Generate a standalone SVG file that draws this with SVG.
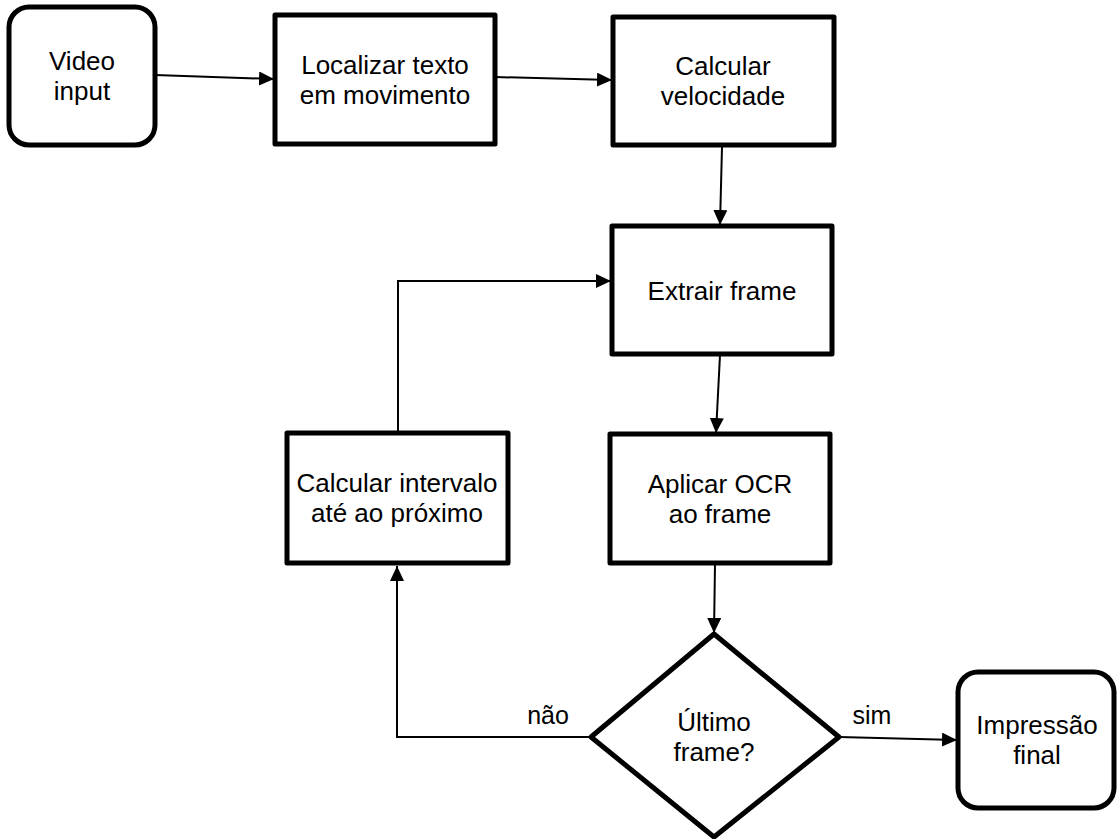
<svg xmlns="http://www.w3.org/2000/svg" width="1117" height="839" viewBox="0 0 1117 839">
<style>
.box{fill:#fff;stroke:#000;stroke-width:5;stroke-linejoin:round}
.t{font-family:"Liberation Sans",Arial,sans-serif;font-size:26px;fill:#000;text-anchor:middle}
.lbl{font-family:"Liberation Sans",Arial,sans-serif;font-size:25px;fill:#000;text-anchor:middle}
.c{fill:none;stroke:#000;stroke-width:2}
</style>
<defs>
<marker id="ah" markerUnits="userSpaceOnUse" markerWidth="16" markerHeight="14" refX="15" refY="7" orient="auto">
<path d="M0,0 L15,7 L0,14 Z" fill="#000"/>
</marker>
</defs>
<rect width="1117" height="839" fill="#fff"/>
<g id="connectors">
<path class="c" d="M155,75 L274,79" marker-end="url(#ah)"/>
<path class="c" d="M495,77 L612,80" marker-end="url(#ah)"/>
<path class="c" d="M722,147 L720,225" marker-end="url(#ah)"/>
<path class="c" d="M720,355 L716,433" marker-end="url(#ah)"/>
<path class="c" d="M715,564 L714,633" marker-end="url(#ah)"/>
<path class="c" d="M591,737 L397,737 L397,566" marker-end="url(#ah)"/>
<path class="c" d="M398,432 L398,281 L611,281" marker-end="url(#ah)"/>
<path class="c" d="M839,737 L957,740" marker-end="url(#ah)"/>
</g>
<g id="video-input">
<rect class="box" x="9" y="7" width="146" height="138" rx="20"/>
<text class="t" x="82" y="70">Video</text>
<text class="t" x="82" y="100">input</text>
</g>
<g id="localizar">
<rect class="box" x="275" y="15" width="220" height="129"/>
<text class="t" x="385" y="74">Localizar texto</text>
<text class="t" x="385" y="104">em movimento</text>
</g>
<g id="calcular-velocidade">
<rect class="box" x="613" y="17" width="221" height="128"/>
<text class="t" x="723" y="75">Calcular</text>
<text class="t" x="723" y="105">velocidade</text>
</g>
<g id="extrair-frame">
<rect class="box" x="612" y="226" width="220" height="128"/>
<text class="t" x="722" y="300">Extrair frame</text>
</g>
<g id="calcular-intervalo">
<rect class="box" x="287" y="433" width="221" height="130"/>
<text class="t" x="397" y="492">Calcular intervalo</text>
<text class="t" x="397" y="522">até ao próximo</text>
</g>
<g id="aplicar-ocr">
<rect class="box" x="610" y="434" width="220" height="129"/>
<text class="t" x="720" y="493">Aplicar OCR</text>
<text class="t" x="720" y="523">ao frame</text>
</g>
<g id="ultimo-frame">
<polygon class="box" points="714,634 839,737 714,837 591,737"/>
<text class="t" x="714" y="731">Último</text>
<text class="t" x="714" y="761">frame?</text>
</g>
<g id="impressao-final">
<rect class="box" x="958" y="672" width="156" height="136" rx="20"/>
<text class="t" x="1037" y="734">Impressão</text>
<text class="t" x="1037" y="764">final</text>
</g>
<g id="labels">
<text class="lbl" x="548" y="724">não</text>
<text class="lbl" x="872" y="724">sim</text>
</g>
</svg>
